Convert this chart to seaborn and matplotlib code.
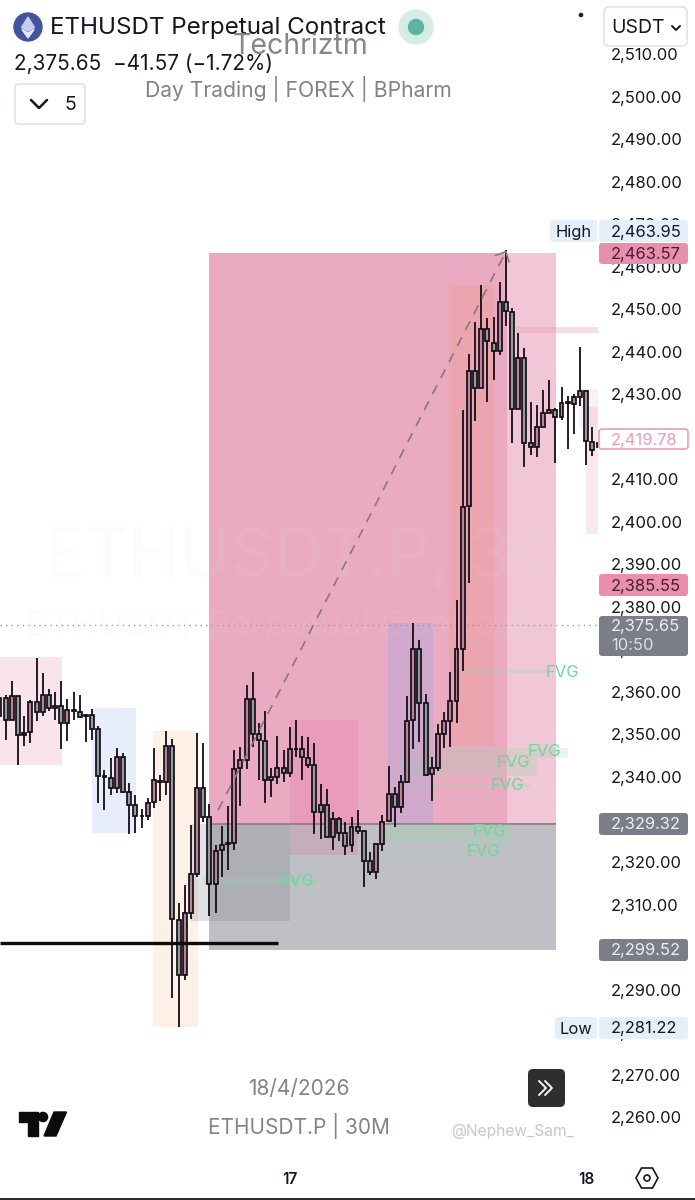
#!/usr/bin/env python3

import numpy as np
import seaborn as sns
import matplotlib.pyplot as plt
from matplotlib.patches import FancyBboxPatch, Circle, Polygon

# candles, 30 minute bars, first one is cut by the left edge
candle_index = np.arange(-1, 97)
candle_open = [
    2358.7, 2358.7, 2353.5, 2359.1, 2350.4, 2350.6, 2357.6, 2355.3, 2359.4, 2356.8,
    2356.8, 2352.6, 2355.6, 2355.4, 2354.5, 2354.5, 2351.2, 2340.2, 2339.7, 2337.5,
    2344.7, 2336.4, 2333.4, 2330.9, 2330.9, 2334.0, 2339.1, 2338.8, 2347.4, 2306.3,
    2293.3, 2308.1, 2317.1, 2337.3, 2330.5, 2314.9, 2322.9, 2324.2, 2324.4, 2342.0,
    2344.1, 2358.3, 2350.0, 2348.5, 2339.9, 2340.0, 2342.1, 2341.0, 2346.5, 2346.5,
    2344.5, 2342.9, 2331.7, 2333.4, 2325.9, 2330.1, 2326.9, 2323.9, 2328.3, 2327.3,
    2320.2, 2317.6, 2324.3, 2329.7, 2336.0, 2333.0, 2338.9, 2353.4, 2370.0, 2357.3,
    2340.7, 2342.1, 2350.2, 2353.2, 2357.9, 2370.2, 2403.8, 2435.6, 2431.5, 2445.3,
    2442.2, 2440.3, 2451.8, 2449.5, 2426.5, 2438.5, 2418.5, 2417.7, 2422.4, 2425.7,
    2426.3, 2424.6, 2428.0, 2427.8, 2429.5, 2430.9, 2418.9, 2418.5,
]
candle_close = [
    2354.3, 2353.5, 2359.1, 2349.8, 2349.8, 2357.6, 2355.3, 2359.4, 2356.3, 2356.3,
    2352.6, 2355.8, 2355.8, 2354.1, 2354.3, 2351.2, 2340.2, 2340.0, 2337.5, 2344.7,
    2336.4, 2333.5, 2330.8, 2330.8, 2333.9, 2339.2, 2338.8, 2347.4, 2306.5, 2293.3,
    2308.1, 2317.1, 2337.3, 2330.6, 2314.9, 2322.6, 2323.9, 2324.4, 2341.8, 2344.0,
    2358.3, 2350.2, 2348.8, 2339.4, 2339.4, 2342.1, 2341.0, 2346.6, 2346.7, 2344.6,
    2342.9, 2331.8, 2333.4, 2325.9, 2330.1, 2326.9, 2323.8, 2328.3, 2327.2, 2320.3,
    2317.6, 2324.2, 2329.5, 2336.0, 2333.0, 2338.9, 2353.2, 2370.0, 2357.4, 2340.5,
    2342.1, 2350.2, 2353.1, 2357.8, 2370.1, 2403.5, 2435.6, 2431.5, 2445.3, 2442.5,
    2440.3, 2451.8, 2449.7, 2426.5, 2438.5, 2418.7, 2417.7, 2422.4, 2425.6, 2426.3,
    2424.6, 2427.9, 2428.2, 2429.3, 2430.9, 2419.1, 2417.0, 2417.6,
]
candle_high = [
    2360.4, 2359.3, 2362.6, 2359.1, 2354.4, 2358.2, 2368.1, 2364.4, 2360.8, 2359.9,
    2362.5, 2358.4, 2360.1, 2359.3, 2354.8, 2356.0, 2352.0, 2341.6, 2344.4, 2346.8,
    2345.7, 2338.6, 2335.7, 2332.4, 2335.0, 2346.9, 2340.5, 2350.9, 2349.0, 2310.4,
    2314.6, 2328.8, 2350.4, 2347.9, 2333.6, 2324.0, 2328.4, 2333.1, 2346.3, 2347.1,
    2361.6, 2364.6, 2352.6, 2355.5, 2342.2, 2349.6, 2346.3, 2351.8, 2353.5, 2349.6,
    2349.4, 2347.9, 2338.3, 2337.1, 2331.7, 2330.5, 2329.4, 2330.5, 2332.3, 2327.6,
    2322.4, 2324.5, 2331.0, 2342.5, 2337.7, 2340.4, 2359.0, 2376.3, 2372.3, 2359.6,
    2344.6, 2352.4, 2355.3, 2364.7, 2381.6, 2426.4, 2439.5, 2447.1, 2455.8, 2447.9,
    2448.2, 2456.4, 2463.95, 2450.4, 2444.4, 2441.0, 2428.3, 2427.5, 2431.1, 2433.4,
    2426.9, 2431.7, 2429.6, 2430.0, 2441.1, 2431.1, 2422.4, 2419.5,
]
candle_low = [
    2348.7, 2348.7, 2353.4, 2342.8, 2347.3, 2348.0, 2353.1, 2354.4, 2355.6, 2353.5,
    2346.5, 2348.5, 2353.4, 2353.8, 2348.3, 2348.8, 2333.8, 2332.2, 2335.7, 2336.3,
    2336.3, 2326.7, 2326.9, 2328.1, 2329.8, 2332.8, 2334.4, 2335.7, 2288.1, 2281.22,
    2292.2, 2306.7, 2316.5, 2329.5, 2307.4, 2307.9, 2316.5, 2318.2, 2322.9, 2333.1,
    2341.8, 2347.1, 2339.4, 2333.9, 2335.3, 2338.3, 2338.9, 2340.0, 2344.7, 2339.2,
    2342.2, 2326.7, 2325.3, 2325.8, 2322.9, 2325.0, 2321.7, 2322.4, 2326.7, 2314.1,
    2316.9, 2315.9, 2322.5, 2329.7, 2328.3, 2331.6, 2338.5, 2346.6, 2348.2, 2340.3,
    2334.4, 2341.4, 2346.9, 2347.1, 2352.7, 2365.0, 2385.7, 2423.8, 2431.5, 2428.3,
    2433.4, 2439.3, 2446.0, 2418.5, 2426.5, 2412.9, 2415.8, 2415.2, 2422.4, 2425.6,
    2413.8, 2424.0, 2417.1, 2420.6, 2427.2, 2413.3, 2415.5, 2417.3,
]

# shaded zones, in candle index and price
zone_left = [-0.92, 14.0, 23.9, 32.9, 32.9, 32.9, 71.8, 61.9, 46.0, 30.0, 82.6, 93.9, 92.8]
zone_right = [9.1, 21.1, 31.1, 89.1, 81.2, 89.1, 79.1, 69.2, 57.0, 46.0, 95.9, 95.9, 95.9]
zone_top = [2368.2, 2356.2, 2350.8, 2463.3, 2463.3, 2329.0, 2455.8, 2376.2, 2353.4, 2329.0, 2445.9, 2427.1, 2431.3]
zone_bottom = [2342.8, 2326.8, 2281.2, 2329.0, 2329.0, 2299.4, 2347.3, 2329.0, 2321.6, 2306.1, 2444.5, 2397.2, 2422.4]
zone_color = ["#f9e4eb", "#e7edfb", "#fdf0e7", "#f1c7d7", "#eaaac2", "#bfc0c5", "#eca4ae",
              "#cfa8cc", "#e75a90", "#6b6f78", "#e98fb0", "#e98fb0", "#e98fb0"]
zone_alpha = [1, 1, 1, 1, 1, 1, 1, 1, 0.17, 0.2, 0.3, 0.22, 0.13]

# fair value gaps
fvg_left = [73.9, 70.8, 64.1, 64.7, 61.4, 61.4, 32.1]
fvg_right = [87.8, 91.0, 86.0, 84.9, 82.0, 80.0, 51.2]
fvg_top = [2365.4, 2346.9, 2344.5, 2338.6, 2329.0, 2322.6, 2316.5]
fvg_bottom = [2364.5, 2344.5, 2340.3, 2337.6, 2324.5, 2322.1, 2314.6]
fvg_label_x = [90.2, 87.2, 82.2, 81.2, 78.3, 77.3, 47.2]
fvg_label_y = [2364.7, 2345.9, 2343.5, 2338.1, 2327.1, 2322.4, 2315.5]

swing_x = [34.4, 81.0]
swing_y = [2332.2, 2463.6]
head_x = [79.3, 81.0, 81.5]
head_y = [2462.7, 2463.6, 2461.2]
support_price = 2300.9
last_price = 2375.65
price_ticks = np.arange(2260, 2511, 10)
day_ticks = [46, 94]
day_labels = ["17", "18"]

sns.set_theme(style="white")
plt.rcParams["font.family"] = ["Inter", "DejaVu Sans"]

fig = plt.figure(figsize=(6.95, 12), dpi=100)
ax = fig.add_axes([0, 45 / 1200, 598 / 695, 1155 / 1200])

for x0, x1, top, bot, col, al in zip(zone_left, zone_right, zone_top, zone_bottom, zone_color, zone_alpha):
    ax.fill_between([x0, x1], bot, top, color=col, alpha=al, linewidth=0, zorder=1)

ax.hlines(2329.0, 32.9, 89.1, color="#8d8088", linewidth=1.3, zorder=1.2)

for x0, x1, top, bot in zip(fvg_left, fvg_right, fvg_top, fvg_bottom):
    ax.fill_between([x0, x1], bot, top, color="#8fd8a8", alpha=0.22, linewidth=0, zorder=1.3)

ax.hlines(last_price, -0.92, 95.9, color="#9a9ca3", linewidth=1, linestyle=(0, (1, 3)), zorder=1.4)

ax.text(47.5, 2391.3, "ETHUSDT.P, 30", fontsize=49, color="#e4e4e4", alpha=0.1, ha="center", va="center", zorder=1.5)
ax.text(44, 2375.5, "ETHUSDT Perpetual Contract", fontsize=26, color="#e4e4e4", alpha=0.09, ha="center", va="center", zorder=1.5)

# wicks then bodies
ax.vlines(candle_index, candle_low, candle_high, color="#120e16", linewidth=1.3, zorder=3)

body_low = np.minimum(candle_open, candle_close)
body_height = np.abs(np.array(candle_close) - np.array(candle_open))
sns.barplot(x=candle_index, y=body_height, bottom=body_low, native_scale=True, width=0.64,
            errorbar=None, color="#999999", saturation=1, edgecolor="#120e16", linewidth=1.25,
            ax=ax, zorder=4)
for bar, o, c in zip(ax.containers[-1], candle_open, candle_close):
    bar.set_facecolor("#bb849c" if c >= o else "#9a9a9c")

sns.lineplot(x=swing_x, y=swing_y, color="#857a84", linewidth=1.2, linestyle=(0, (6, 4.8)),
             errorbar=None, ax=ax, zorder=5)
ax.plot(head_x, head_y, color="#857a84", linewidth=1.2, zorder=5)
ax.hlines(support_price, -0.92, 44.1, color="#0c0c0e", linewidth=2.4, zorder=5)

for x, y in zip(fvg_label_x, fvg_label_y):
    ax.text(x, y, "FVG", fontsize=12, color="#6fd69a", ha="center", va="center", zorder=6)

ax.set_xlim(-0.918, 95.91)
ax.set_ylim(2251.06, 2522.82)
ax.set_xlabel("")
ax.set_ylabel("")
ax.set_xticks(day_ticks)
ax.set_xticklabels(day_labels, fontsize=11, fontweight="semibold", color="#131722")
ax.set_yticks(price_ticks)
ax.set_yticklabels([f"{v:,.2f}" for v in price_ticks], fontsize=11.9, color="#131722")
ax.yaxis.tick_right()
ax.tick_params(axis="y", length=0, pad=9.4)
ax.tick_params(axis="x", length=0, pad=12)
sns.despine(ax=ax, left=True, bottom=True, right=True, top=True)

# app chrome on top, this layer works in picture pixels
ui = fig.add_axes([0, 0, 1, 1], facecolor="none")
ui.set_xlim(0, 695)
ui.set_ylim(1200, 0)
ui.axis("off")


def box(x0, y0, x1, y1, face, edge="none", radius=3, lw=1.0):
    ui.add_patch(FancyBboxPatch((x0 + radius, y0 + radius), x1 - x0 - 2 * radius, y1 - y0 - 2 * radius,
                                boxstyle=f"round,pad={radius}", facecolor=face, edgecolor=edge, linewidth=lw))


def label(x, y, s, size=11.9, color="#131722", ha="left", **kw):
    ui.text(x, y + 1, s, fontsize=size, color=color, ha=ha, va="center", **kw)


# header
ui.add_patch(Circle((28, 27), 14, color="#43529f"))
ui.add_patch(Polygon([(28, 17), (34.5, 27.5), (28, 31), (21.5, 27.5)], color="#c6cdf0"))
ui.add_patch(Polygon([(28, 33), (34, 29.5), (28, 38), (22, 29.5)], color="#e6e9fa"))
label(50, 27, "ETHUSDT Perpetual Contract", size=17.4, color="#131722")
ui.add_patch(Circle((416, 27), 17, color="#d6ece7"))
ui.add_patch(Circle((416, 27), 7.5, color="#5db5a0"))
label(14, 63, "2,375.65  \u221241.57 (\u22121.72%)", size=14.9, color="#131722")
box(15, 84, 85, 124, "white", "#e0e3eb", radius=4, lw=1.2)
ui.plot([31, 39, 47], [100, 108, 100], color="#131722", linewidth=1.8)
label(70, 104, "5", size=14, color="#131722", ha="center")
label(300, 45, "Techriztm", size=20.5, color="#7a7a7a", ha="center", alpha=0.9)
label(298, 88, "Day Trading | FOREX | BPharm", size=15.2, color="#808488", ha="center")

# currency button
box(604, 7, 687, 46, "white", "#e0e3eb", radius=5, lw=1.2)
label(611, 27, "USDT", size=14, color="#131722")
ui.plot([672, 676, 680], [26, 30, 26], color="#131722", linewidth=1.4)
ui.add_patch(Circle((581, 15), 1.6, color="#222222"))

# price tags
blue = "#e6eefa"
pink = "#e88fae"
grey = "#7b7e88"
box(550, 220, 597, 242, blue)
label(574, 231, "High", ha="center")
box(599, 220, 688, 242, blue)
label(611, 231, "2,463.95")
box(599, 243, 688, 264, pink)
label(611, 253.5, "2,463.57", color="#4a1e30")
box(599, 429, 688, 449, "white", "#ec9db8", lw=1.2)
label(611, 439, "2,419.78", color="#ea9cb8")
box(599, 574, 688, 596, pink)
label(611, 585, "2,385.55", color="#4a1e30")
box(599, 616, 688, 656, grey)
label(611, 626, "2,375.65", color="#eceef2")
label(611, 645, "10:50", color="#dcdee3")
box(599, 813, 688, 835, grey)
label(611, 824, "2,329.32", color="#eceef2")
box(599, 939, 688, 961, grey)
label(611, 950, "2,299.52", color="#eceef2")
box(555, 1017, 597, 1039, blue)
label(576, 1028, "Low", ha="center")
box(599, 1017, 688, 1039, blue)
label(611, 1028, "2,281.22")

# footer watermark
label(299, 1088, "18/4/2026", size=15, color="#808488", ha="center")
label(299, 1125, "ETHUSDT.P | 30M", size=15, color="#808488", ha="center")
label(513, 1130, "@Nephew_Sam_", size=11.2, color="#c6c8cc", ha="center")

# tradingview logo
ui.add_patch(Polygon([(18.6, 1112), (38, 1112), (38, 1136), (28, 1136), (28, 1122), (18.6, 1122)], color="#0b0b0d"))
ui.add_patch(Circle((43, 1117), 4.6, color="#0b0b0d"))
ui.add_patch(Polygon([(54, 1112), (66.5, 1112), (56, 1136), (44, 1136)], color="#0b0b0d"))

# scroll button
box(528, 1069, 565, 1107, "#2e2e30", radius=5)
ui.plot([539, 546, 539], [1081, 1088, 1095], color="#f2f2f2", linewidth=1.4)
ui.plot([545, 552, 545], [1081, 1088, 1095], color="#f2f2f2", linewidth=1.4)

# settings hexagon
ui.add_patch(Polygon([(636, 1178), (641.5, 1168), (652.5, 1168), (658, 1178), (652.5, 1188), (641.5, 1188)],
                     facecolor="none", edgecolor="#131722", linewidth=1.2))
ui.add_patch(Circle((647, 1178), 3, facecolor="none", edgecolor="#131722", linewidth=1.2))

ui.fill_between([0, 695], 1198, 1200, color="#2a2a2a", linewidth=0)

plt.savefig("out.png", dpi=100)
